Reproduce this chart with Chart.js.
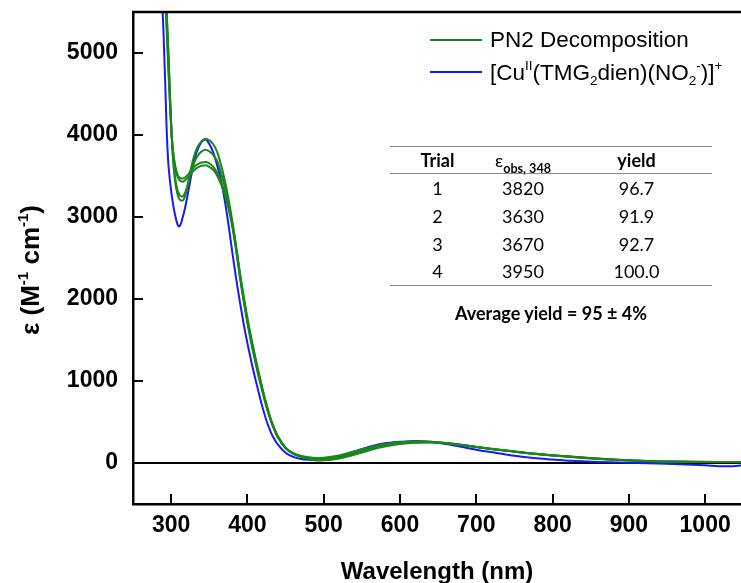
<!DOCTYPE html>
<html>
<head>
<meta charset="utf-8">
<script src="https://cdn.jsdelivr.net/npm/chart.js@4.4.1/dist/chart.umd.min.js"></script>
<style>
  body { margin: 0; background: #fff; }
  #wrap { position: relative; width: 741px; height: 583px; }
  .leg-line { position: absolute; left: 430px; width: 52px; height: 2px; }
  .leg-text { position: absolute; left: 490px; font: 22.5px "Liberation Sans", Arial, sans-serif; line-height: 26px; color: #000; white-space: nowrap; }
  .leg-text sup, .leg-text sub { font-size: 0.6em; line-height: 0; position: relative; vertical-align: baseline; }
  .leg-text sup { top: -0.75em; }
  .leg-text sub { top: 0.35em; }
  #tbl { position: absolute; left: 390px; top: 146px; width: 322px; border-collapse: collapse; font: 18px Lato, "Open Sans", sans-serif; color: #000; }
  #tbl td, #tbl th { padding: 0; text-align: center; }
  #tbl thead tr { height: 27px; border-top: 1.5px solid #8a8a8a; border-bottom: 1.5px solid #8a8a8a; }
  #tbl tbody tr { height: 28px; }
  #tbl tbody tr:last-child { border-bottom: 1.5px solid #8a8a8a; }
  #tbl .eps { font-weight: normal; }
  #tbl .eps sub { font-size: 0.7em; font-weight: bold; line-height: 0; position: relative; vertical-align: baseline; top: 0.45em; }
  #avg { position: absolute; left: 390px; top: 301px; width: 322px; text-align: center; font: bold 18px Lato, "Open Sans", sans-serif; line-height: 24px; }
</style>
</head>
<body>
<div id="wrap">
  <canvas id="spectrum" width="741" height="583"></canvas>
  <div class="leg-line" style="top:39px;background:rgb(25,135,25)"></div>
  <div class="leg-text" style="top:27px">PN2 Decomposition</div>
  <div class="leg-line" style="top:71px;background:rgb(25,25,245)"></div>
  <div class="leg-text" style="top:60px">[Cu<sup>II</sup>(TMG<sub>2</sub>dien)(NO<sub>2</sub><sup>-</sup>)]<sup>+</sup></div>
  <table id="tbl">
    <colgroup><col style="width:95px"><col style="width:76px"><col style="width:151px"></colgroup>
    <thead>
      <tr><th>Trial</th><th class="eps">&epsilon;<sub>obs, 348</sub></th><th>yield</th></tr>
    </thead>
    <tbody id="tbody"></tbody>
  </table>
  <div id="avg">Average yield = 95 ± 4%</div>
</div>
<script>
// wavelength grid (nm) shared by all traces
const wavelengths = [286, 288, 290, 292, 294, 296, 298, 300, 302, 305,
  308, 310, 312, 315, 318, 322, 326, 330, 335, 340,
  345, 350, 355, 360, 365, 370, 375, 380, 385, 390,
  395, 400, 405, 410, 415, 420, 425, 430, 435, 440,
  450, 460, 470, 480, 490, 500, 520, 540, 560, 580,
  600, 620, 640, 660, 680, 700, 725, 750, 775, 800,
  825, 850, 875, 900, 925, 950, 975, 1000, 1025, 1047];

// [Cu(II)(TMG2dien)(NO2-)]+ reference spectrum
const cuNitrite = [6300, 5700, 5250, 4700, 4100, 3700, 3480, 3320, 3190, 3030,
  2920, 2885, 2900, 2990, 3100, 3290, 3490, 3680, 3830, 3915,
  3945, 3890, 3790, 3640, 3460, 3220, 2920, 2580, 2260, 1970,
  1700, 1460, 1240, 1040, 850, 670, 515, 390, 295, 225,
  125, 74, 50, 40, 37, 45, 85, 140, 200, 240,
  258, 268, 258, 232, 198, 162, 125, 88, 60, 42,
  26, 16, 8, 2, -2, -8, -18, -28, -40, -32];

// PN2 decomposition trials
const trial1 = [7500, 6900, 6300, 5950, 5500, 5080, 4620, 4150, 3800, 3500,
  3340, 3290, 3260, 3250, 3290, 3400, 3540, 3660, 3750, 3800,
  3820, 3800, 3760, 3690, 3550, 3380, 3170, 2920, 2630, 2300,
  2005, 1735, 1495, 1275, 1068, 878, 698, 543, 418, 318,
  185, 120, 88, 70, 62, 65, 92, 140, 190, 230,
  252, 262, 258, 244, 222, 195, 165, 138, 112, 90,
  72, 56, 42, 30, 22, 16, 14, 12, 12, 10];
const trial2 = [7400, 6800, 6300, 5850, 5400, 4950, 4500, 4120, 3850, 3620,
  3500, 3460, 3440, 3430, 3445, 3480, 3530, 3570, 3605, 3625,
  3630, 3610, 3575, 3510, 3410, 3280, 3110, 2890, 2600, 2270,
  1970, 1700, 1460, 1245, 1040, 855, 680, 530, 408, 310,
  178, 110, 75, 50, 30, 32, 55, 100, 155, 200,
  232, 248, 250, 240, 220, 196, 168, 140, 115, 95,
  78, 60, 45, 33, 25, 19, 16, 14, 13, 12];
const trial3 = [7300, 6700, 6200, 5750, 5300, 4880, 4450, 4100, 3850, 3640,
  3530, 3490, 3475, 3470, 3480, 3515, 3565, 3610, 3645, 3665,
  3670, 3655, 3615, 3545, 3440, 3305, 3140, 2925, 2650, 2330,
  2040, 1770, 1530, 1305, 1095, 900, 715, 555, 428, 325,
  188, 118, 84, 58, 42, 40, 65, 115, 168, 212,
  240, 254, 254, 242, 221, 195, 166, 139, 113, 93,
  76, 59, 44, 32, 24, 18, 15, 13, 12, 11];
const trial4 = [7600, 7000, 6500, 6000, 5550, 5100, 4600, 4120, 3760, 3450,
  3290, 3230, 3205, 3200, 3250, 3400, 3590, 3740, 3860, 3925,
  3950, 3935, 3890, 3800, 3650, 3460, 3230, 2960, 2650, 2310,
  2010, 1740, 1500, 1280, 1070, 880, 700, 545, 420, 320,
  185, 115, 80, 60, 50, 52, 80, 130, 180, 222,
  246, 258, 256, 244, 222, 196, 166, 140, 114, 92,
  74, 58, 44, 32, 24, 18, 15, 13, 12, 10];

// inset table
const trialIds = ["1", "2", "3", "4"];
const epsObs = ["3820", "3630", "3670", "3950"];
const yields = ["96.7", "91.9", "92.7", "100.0"];

const xTicks = [300, 400, 500, 600, 700, 800, 900, 1000];
const yTicks = [0, 1000, 2000, 3000, 4000, 5000];

const GREEN = "rgb(25,135,25)";
const BLUE = "rgb(25,25,245)";
const AXIS_FONT = "Liberation Sans, Arial, sans-serif";

const tbody = document.getElementById("tbody");
trialIds.forEach(function (id, i) {
  const tr = document.createElement("tr");
  [id, epsObs[i], yields[i]].forEach(function (t) {
    const td = document.createElement("td");
    td.textContent = t;
    tr.appendChild(td);
  });
  tbody.appendChild(tr);
});

function toPoints(values) {
  return wavelengths.map((w, i) => ({ x: w, y: values[i] }));
}

function trace(values, color) {
  return {
    data: toPoints(values),
    borderColor: color,
    borderWidth: 2,
    pointRadius: 0,
    fill: false,
    cubicInterpolationMode: "monotone",
    clip: 0,
  };
}

// frame, zero line, inward ticks and y title
const framePlugin = {
  id: "frame",
  beforeDatasetsDraw(chart) {
    const { ctx, chartArea } = chart;
    const y0 = chart.scales.y.getPixelForValue(0);
    ctx.save();
    ctx.strokeStyle = "#000";
    ctx.lineWidth = 2;
    ctx.beginPath();
    ctx.moveTo(chartArea.left, y0);
    ctx.lineTo(chartArea.right, y0);
    ctx.stroke();
    ctx.restore();
  },
  afterDraw(chart) {
    const { ctx, chartArea } = chart;
    const xs = chart.scales.x;
    const ys = chart.scales.y;
    ctx.save();
    ctx.strokeStyle = "#000";
    ctx.lineWidth = 2.5;
    ctx.beginPath();
    ctx.moveTo(chartArea.left - 1, chartArea.top);
    ctx.lineTo(chartArea.right, chartArea.top);
    ctx.stroke();

    ctx.lineWidth = 2;
    ctx.beginPath();
    xTicks.forEach(function (v) {
      const px = Math.round(xs.getPixelForValue(v));
      ctx.moveTo(px, chartArea.bottom);
      ctx.lineTo(px, chartArea.bottom - 10);
    });
    yTicks.forEach(function (v) {
      const py = Math.round(ys.getPixelForValue(v));
      ctx.moveTo(chartArea.left, py);
      ctx.lineTo(chartArea.left + 10, py);
    });
    ctx.stroke();

    // y axis title with superscripts
    const parts = [
      ["ε (M", false], ["-1", true], [" cm", false], ["-1", true], [")", false],
    ];
    const big = "bold 26px " + AXIS_FONT;
    const small = "bold 15px " + AXIS_FONT;
    let total = 0;
    parts.forEach(function (p) {
      ctx.font = p[1] ? small : big;
      total += ctx.measureText(p[0]).width;
    });
    ctx.translate(30, 270);
    ctx.rotate(-Math.PI / 2);
    ctx.fillStyle = "#000";
    ctx.textBaseline = "alphabetic";
    let cx = -total / 2;
    parts.forEach(function (p) {
      ctx.font = p[1] ? small : big;
      ctx.fillText(p[0], cx, p[1] ? -2 : 9);
      cx += ctx.measureText(p[0]).width;
    });
    ctx.restore();
  },
};

new Chart(document.getElementById("spectrum"), {
  type: "line",
  data: {
    datasets: [
      trace(trial1, GREEN),
      trace(trial2, GREEN),
      trace(trial3, GREEN),
      trace(trial4, GREEN),
      trace(cuNitrite, BLUE),
    ],
  },
  options: {
    responsive: false,
    animation: false,
    layout: { padding: { top: 12, right: 0, bottom: 0, left: 0 } },
    plugins: { legend: { display: false }, tooltip: { enabled: false } },
    scales: {
      x: {
        type: "linear",
        min: 250,
        max: 1047,
        afterFit: (s) => {
          s.height = 79;
          s.paddingLeft = 0;
          s.paddingRight = 0;
        },
        afterBuildTicks: (s) => { s.ticks = xTicks.map((v) => ({ value: v })); },
        grid: { display: false, drawTicks: false },
        border: { display: true, color: "#000", width: 2.5 },
        ticks: {
          color: "#000",
          autoSkip: false,
          maxRotation: 0,
          padding: 8,
          callback: (v) => String(v),
          font: { family: AXIS_FONT, size: 23, weight: "bold" },
        },
        title: {
          display: true,
          text: "Wavelength (nm)",
          color: "#000",
          padding: { top: 0, bottom: 0 },
          font: { family: AXIS_FONT, size: 24, weight: "bold", lineHeight: 0.9 },
        },
      },
      y: {
        min: -500,
        max: 5500,
        afterFit: (s) => {
          s.width = 133;
          s.paddingTop = 0;
          s.paddingBottom = 0;
        },
        afterBuildTicks: (s) => { s.ticks = yTicks.map((v) => ({ value: v })); },
        grid: { display: false, drawTicks: false },
        border: { display: true, color: "#000", width: 2.5 },
        ticks: {
          color: "#000",
          padding: 15,
          callback: (v) => String(v),
          font: { family: AXIS_FONT, size: 23, weight: "bold" },
        },
      },
    },
  },
  plugins: [framePlugin],
});
</script>
</body>
</html>
